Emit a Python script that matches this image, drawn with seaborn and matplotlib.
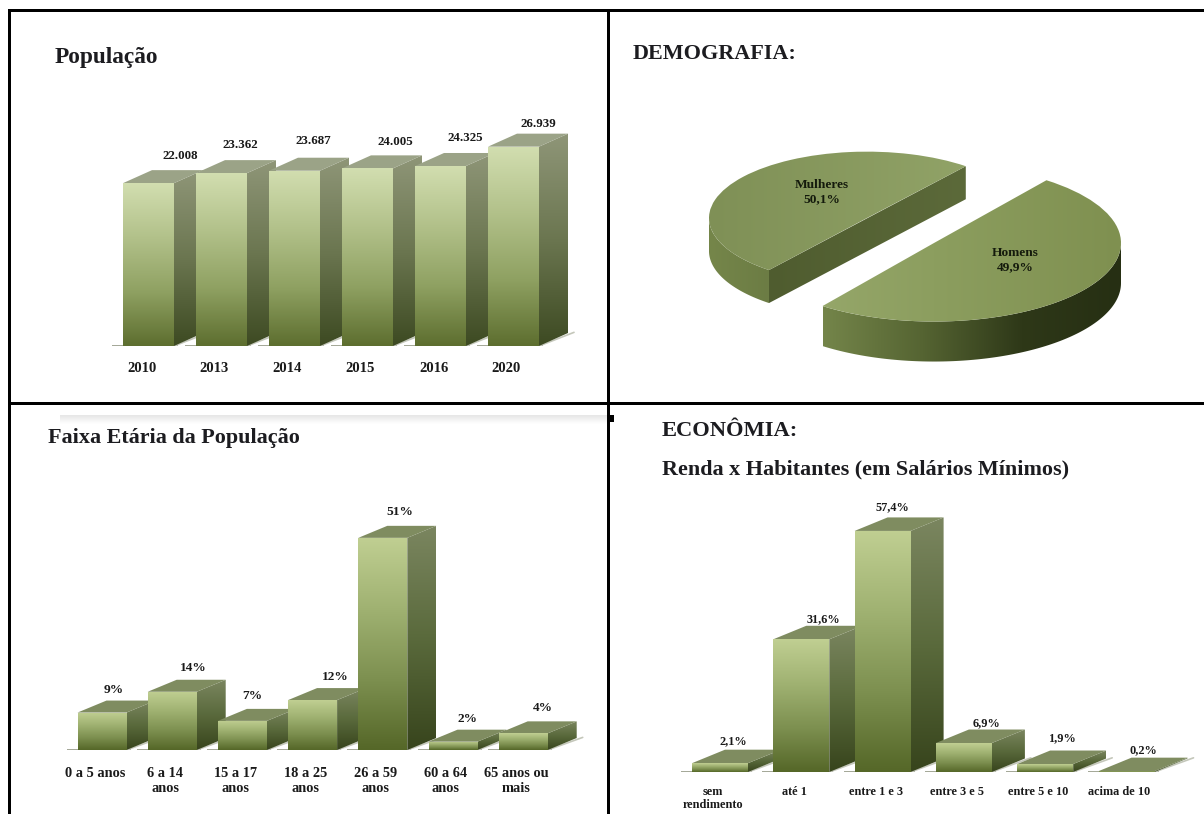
import numpy as np
import matplotlib
matplotlib.use("Agg")
import matplotlib.pyplot as plt
from matplotlib.colors import LinearSegmentedColormap
from matplotlib.patches import Polygon, Rectangle
from matplotlib.transforms import ScaledTranslation
import seaborn as sns

# Municipal population by year
pop_years = ["2010", "2013", "2014", "2015", "2016", "2020"]
pop_values = [22008, 23362, 23687, 24005, 24325, 26939]

# Sex split
sex_labels = ["Mulheres", "Homens"]
sex_shares = [50.1, 49.9]

# Age groups
age_groups = ["0 a 5 anos", "6 a 14\nanos", "15 a 17\nanos", "18 a 25\nanos",
              "26 a 59\nanos", "60 a 64\nanos", "65 anos ou\nmais"]
age_shares = [9, 14, 7, 12, 51, 2, 4]

# Income brackets
income_groups = ["sem\nrendimento", "até 1", "entre 1 e 3", "entre 3 e 5",
                 "entre 5 e 10", "acima de 10"]
income_shares = [2.1, 31.6, 57.4, 6.9, 1.9, 0.2]

W, H, DPI = 1204, 814, 100
SERIF = ["Liberation Serif", "DejaVu Serif"]

sns.set_theme(style="white")
plt.rcParams["font.family"] = SERIF
fig = plt.figure(figsize=(W / DPI, H / DPI), dpi=DPI, facecolor="white")

# Page layer in pixel units: frame lines and headings
page = fig.add_axes([0, 0, 1, 1], zorder=5)
page.set_xlim(0, W)
page.set_ylim(H, 0)
page.axis("off")
page.patch.set_alpha(0)
for x0, y0, x1, y1 in [(8, 9, W, 12), (8, 9, 11, H), (607, 9, 610, H), (8, 402, W, 405),
                       (610, 415, 614, 422)]:
    page.add_patch(Rectangle((x0, y0), x1 - x0, y1 - y0, fc="black", ec="none"))


def heading(x, y, text, size=15.9):
    page.text(x, y, text, fontsize=size, fontweight="bold", color="#1c1c20",
              ha="left", va="center")


heading(55, 58, "População", 16.8)
heading(633, 54, "DEMOGRAFIA:")
heading(48, 438, "Faixa Etária da População")
heading(662, 431, "ECONÔMIA:", 16.2)
heading(662, 469, "Renda x Habitantes (em Salários Mínimos)")


def gradient(ax, clip, extent, colors, zorder, horizontal=False):
    cmap = LinearSegmentedColormap.from_list("shade", colors)
    ramp = np.linspace(0, 1, 256)
    ramp = ramp.reshape(1, -1) if horizontal else ramp.reshape(-1, 1)
    im = ax.imshow(ramp, cmap=cmap, extent=extent, aspect="auto", origin="upper",
                   zorder=zorder, interpolation="bilinear")
    im.set_clip_path(clip)
    return im


def bars3d(cats, vals, first_center, spacing, bar_w, baseline, px_per_unit, depth,
           label_fmt, nudges, tick_size, value_size, front, side, top, tick_y,
           tick_shift=-7):
    n = len(cats)
    height_px = max(vals) * px_per_unit + 70
    left = first_center - spacing / 2
    width_px = (n + 1) * spacing
    ax = fig.add_axes([left / W, (H - baseline) / H, width_px / W, height_px / H], zorder=2)
    ax.patch.set_alpha(0)
    sns.barplot(x=cats, y=vals, order=cats, ax=ax, color=front[0], saturation=1,
                width=bar_w / spacing, linewidth=0)
    ax.set_xlim(-0.5, n + 0.5)
    ax.set_ylim(0, height_px / px_per_unit)
    ax.autoscale(False)
    ax.set_yticks([])
    ax.set_xlabel("")
    ax.set_ylabel("")
    sns.despine(ax=ax, left=True, bottom=True)
    ddx, ddy = depth[0] / spacing, depth[1] / px_per_unit

    for i, bar in enumerate(ax.patches):
        x0, w, h = bar.get_x(), bar.get_width(), bar.get_height()
        x1 = x0 + w
        base = 3 * i + 3
        # ground shadow under the bar
        ax.plot([x0 - 11 / spacing, x1 + 4 / spacing], [0, 0], color="#a3a797",
                lw=1.4, zorder=1, solid_capstyle="butt")
        ax.plot([x1, x1 + ddx + 6 / spacing], [0, ddy * 1.05], color="#c4c7ba",
                lw=1.2, zorder=1)
        side_poly = Polygon([(x1, 0), (x1 + ddx, ddy), (x1 + ddx, h + ddy), (x1, h)],
                            closed=True, fc="none", ec="none", zorder=base)
        ax.add_patch(side_poly)
        gradient(ax, side_poly, (x1, x1 + ddx, 0, h + ddy), side, base)
        ax.add_patch(Polygon([(x0, h), (x1, h), (x1 + ddx, h + ddy), (x0 + ddx, h + ddy)],
                             closed=True, fc=top, ec="none", zorder=base + 1))
        bar.set_zorder(base + 1)
        gradient(ax, bar, (x0, x1, 0, h), front, base + 2)
        nx, ny = nudges[i]
        ax.annotate(label_fmt(vals[i]), xy=(x0 + w / 2, h), xytext=(nx * 0.72, ny * 0.72),
                    textcoords="offset points", ha="center", va="center",
                    fontsize=value_size, fontweight="bold", color="#1a1a1a", zorder=50,
                    annotation_clip=False)

    # tick labels sit slightly left of the bar centres
    ax.tick_params(axis="x", length=0, pad=(tick_y - baseline - tick_size * 0.48) * 0.72,
                   labelsize=tick_size, colors="#1a1a1a")
    shift = ScaledTranslation(tick_shift / DPI, 0, fig.dpi_scale_trans)
    for lab in ax.get_xticklabels():
        lab.set_fontweight("bold")
        lab.set_linespacing(1.15)
        lab.set_transform(lab.get_transform() + shift)
    return ax


FRONT_POP = ["#d2deb0", "#b2c18a", "#8fa162", "#5d6e2f"]
FRONT_BAR = ["#c0cf92", "#a0b272", "#7d9050", "#556728"]
SIDE_POP = ["#8f9678", "#6b7650", "#3d4a22"]
SIDE_BAR = ["#7b8660", "#5a6a3c", "#37441c"]

bars3d(pop_years, pop_values, 148.5, 73, 51, 346, 0.0074, (29, 13),
       lambda v: f"{v:,}".replace(",", "."),
       [(32, 27), (19, 28), (19, 30), (28, 26), (25, 28), (25, 23)],
       10.5, 9.4, FRONT_POP, SIDE_POP, "#9ba387", 367)

bars3d(age_groups, age_shares, 102, 70.2, 49, 750, 4.16, (29, 12),
       lambda v: f"{v}%",
       [(12, 23), (21, 24), (10, 25), (23, 23), (17, 26), (15, 23), (20, 25)],
       10.4, 9.6, FRONT_BAR, SIDE_BAR, "#7f8c60", 772)

bars3d(income_groups, income_shares, 720, 81.3, 56, 772, 4.2, (33, 13.5),
       lambda v: f"{v}%".replace(".", ","),
       [(13, 22), (22, 20), (10, 24), (23, 20), (17, 26), (17, 21)],
       8.8, 8.8, FRONT_BAR, SIDE_BAR, "#7f8c60", 790)

# Pie panel: 1 x unit = 1 px, y units squashed so the discs lie in perspective
SQUASH = 0.42
pie_ax = fig.add_axes([0, 0, 1, 1], zorder=2)
pie_ax.patch.set_alpha(0)


def slab(center_px, radius, share, start, thickness, z):
    center = (center_px[0], (H - center_px[1]) / SQUASH)
    wedges, _ = pie_ax.pie([share / 100], radius=radius, center=center, startangle=start,
                           normalize=False, wedgeprops={"fc": "none", "ec": "none"})
    w = wedges[0]
    w.set_zorder(z + 3)
    cx, cy = center

    def rim(a, b):
        ang = np.radians(np.linspace(a, b, 120))
        return np.c_[cx + radius * np.cos(ang), cy + radius * np.sin(ang)]

    return w, w.theta1, w.theta2, thickness / SQUASH, rim, center


# Women: flat cut faces lower right, curved rim shows on the lower left
w_f, t1, t2, drop, rim, c = slab((867, 218), 158, sex_shares[0], 51.3, 33, 10)
# Men: flat cut faces upper left, curved rim runs along the bottom
w_m, m1, m2, mdrop, mrim, mc = slab((934, 243), 187, sex_shares[1], 233.4, 40, 20)

pie_ax.set_aspect("auto")
pie_ax.set_xlim(0, W)
pie_ax.set_ylim(0, H / SQUASH)
pie_ax.autoscale(False)
pie_ax.axis("off")

arc = rim(180, t2)
arc_poly = Polygon(np.r_[arc, (arc - [0, drop])[::-1]], closed=True, fc="none", ec="none", zorder=10)
pie_ax.add_patch(arc_poly)
gradient(pie_ax, arc_poly, (c[0] - 158, c[0] - 60, c[1] - 158 - drop, c[1]),
         ["#75864a", "#667640"], 10, horizontal=True)
tip_a, tip_b = rim(t1, t1)[0], rim(t2, t2)[0]
flat_poly = Polygon([tip_a, tip_b, tip_b - [0, drop], tip_a - [0, drop]], closed=True,
                    fc="none", ec="none", zorder=11)
pie_ax.add_patch(flat_poly)
gradient(pie_ax, flat_poly, (tip_b[0], tip_a[0], tip_b[1] - drop, tip_a[1]),
         ["#4f5c2f", "#5c6a3a"], 11, horizontal=True)
surface_f = (c[0] - 158, c[0] + 158, c[1] - 158, c[1] + 158)
gradient(pie_ax, w_f, surface_f, ["#7f9056", "#95a76b"], 13, horizontal=True)

arc_m = mrim(m1, 360)
m_poly = Polygon(np.r_[arc_m, (arc_m - [0, mdrop])[::-1]], closed=True, fc="none", ec="none", zorder=20)
pie_ax.add_patch(m_poly)
gradient(pie_ax, m_poly, (arc_m[0, 0], mc[0] + 187, mc[1] - 187 - mdrop, mc[1]),
         ["#74854a", "#556432", "#2e3818", "#262f13"], 20, horizontal=True)
surface_m = (mc[0] - 187, mc[0] + 187, mc[1] - 187, mc[1] + 187)
gradient(pie_ax, w_m, surface_m, ["#9bac70", "#8c9e5f", "#7f9050"], 23, horizontal=True)

for (x, y), name, share in zip([(822, 192), (1015, 260)], sex_labels, sex_shares):
    page.text(x, y, f"{name}\n{share}%".replace(".", ","), fontsize=9.6, fontweight="bold",
              ha="center", va="center", color="#141a0c", linespacing=1.3)

# Faint band across the top of the age panel
band = fig.add_axes([60 / W, (H - 424) / H, 547 / W, 9 / H], zorder=1)
band.imshow(np.linspace(0, 1, 32).reshape(-1, 1), cmap=LinearSegmentedColormap.from_list(
    "band", ["#e6e6e6", "#ffffff"]), aspect="auto")
band.axis("off")

fig.savefig("out.png", dpi=DPI)
